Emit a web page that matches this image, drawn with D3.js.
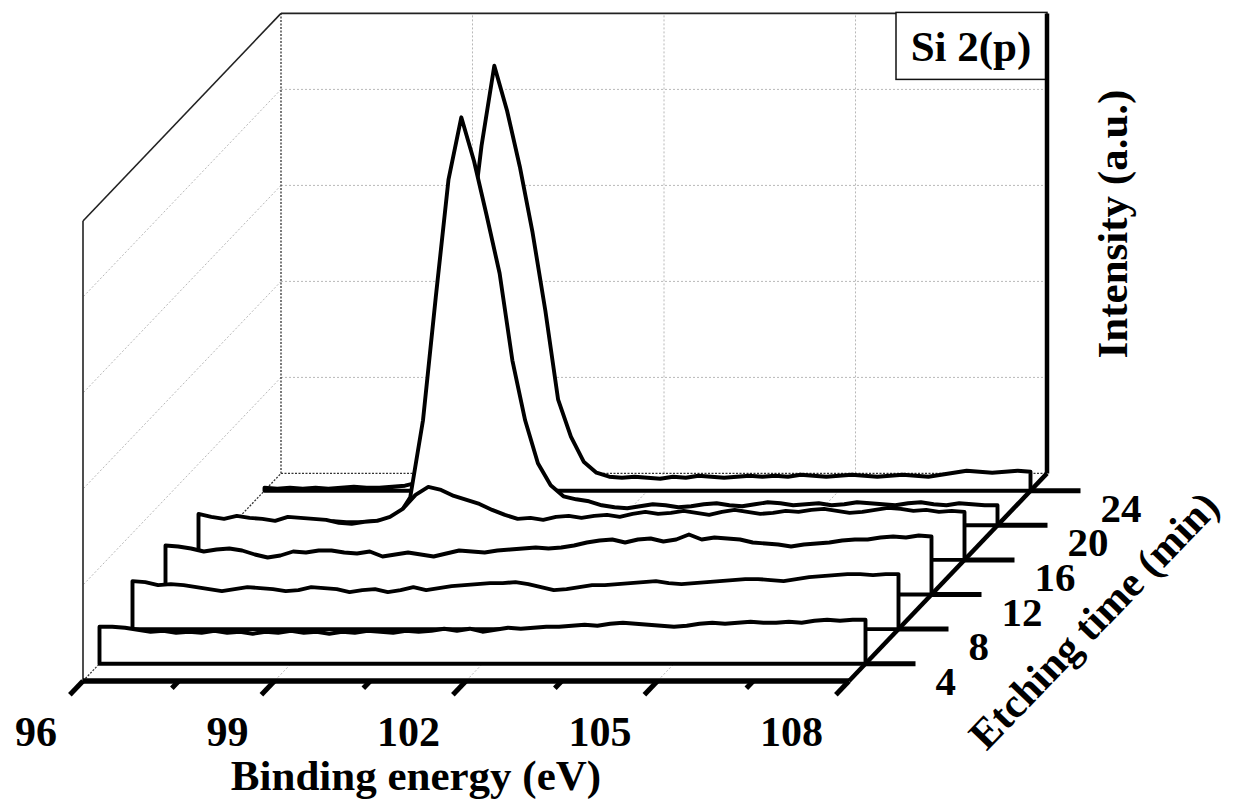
<!DOCTYPE html>
<html>
<head>
<meta charset="utf-8">
<script src="https://cdn.jsdelivr.net/npm/d3@7/dist/d3.min.js"></script>
<style>
  body { margin: 0; background: #fff; }
  svg { display: block; }
  text { font-family: "Liberation Serif", "Times New Roman", serif; font-weight: bold; fill: #000; }
</style>
</head>
<body>
<div id="chart"></div>
<script>
// Binding energy grid (eV)
const energies = [96.0,96.2,96.4,96.6,96.8,97.0,97.2,97.4,97.6,97.8,
  98.0,98.2,98.4,98.6,98.8,99.0,99.2,99.4,99.6,99.8,
  100.0,100.2,100.4,100.6,100.8,101.0,101.2,101.4,101.6,101.8,
  102.0,102.2,102.4,102.6,102.8,103.0,103.2,103.4,103.6,103.8,
  104.0,104.2,104.4,104.6,104.8,105.0,105.2,105.4,105.6,105.8,
  106.0,106.2,106.4,106.6,106.8,107.0,107.2,107.4,107.6,107.8,108.0];

const etchTimes = ["4", "8", "12", "16", "20", "24"];
const energyTicks = [96, 99, 102, 105, 108];
const energyMinorTicks = [97.5, 100.5, 103.5, 106.5];
const energyGrid = [99, 102, 105];
const intensityGrid = [960, 1920, 2880, 3840];
const intensityMax = 4600;

// Intensity (a.u.) per etching time
const s4 = [370,370,360,340,320,330,310,320,310,330, 310,320,300,320,310,330,310,320,300,320,
  310,330,320,310,330,320,330,350,330,350, 320,340,360,350,360,370,370,380,390,380,
  400,410,400,390,380,370,380,400,410,400, 410,420,410,410,420,410,430,440,430,440, 440];
const s8 = [480,470,440,450,440,420,400,380,400,420, 410,400,380,390,420,410,400,370,390,400,
  370,390,420,390,410,430,440,450,460,460, 470,450,420,390,400,420,440,440,450,460,
  470,480,460,450,460,470,480,490,500,500, 490,480,500,520,530,540,550,550,540,550, 550];
const s12 = [490,480,460,430,450,460,440,400,370,390, 430,420,440,440,420,410,430,380,400,420,
  400,380,410,440,430,420,440,450,460,470, 460,470,490,520,540,550,520,550,560,530,
  550,600,550,570,560,550,520,510,500,480, 500,510,520,540,550,550,570,580,570,590, 580];
const s16 = [460,430,410,440,420,410,390,430,420,410, 400,370,360,380,390,430,510,650,730,700,
  640,600,560,500,450,410,420,400,430,440, 420,440,450,430,460,480,460,470,490,470,
  450,480,500,480,460,470,490,480,500,510, 490,470,480,500,520,510,490,500,480,490, 480];
const s20 = [30,20,30,40,20,30,30,20,40,30, 30,40,50,80,280,1050,2280,3460,4080,3640,
  3090,2520,1650,1050,620,400,290,260,240,200, 180,170,190,210,200,180,190,210,220,200,
  190,210,230,220,200,210,220,200,210,230, 220,210,200,220,230,210,200,220,210,200, 200];
const s24 = [30,20,30,20,30,20,30,40,30,30, 40,50,80,200,550,1300,2400,3450,4250,3800,
  3240,2580,1800,910,540,290,180,140,130,140, 130,120,140,130,150,140,130,140,150,140,
  150,140,160,150,140,150,160,150,140,150, 160,150,140,160,180,200,190,180,190,200, 190];

const spectra = [s4, s8, s12, s16, s20, s24];

function waterfall(elementId) {

  const width = 1233, height = 807;

  // front-left floor corner and the vector from front to back of the floor
  const front = {x: 83, y: 681};
  const back = {x: 198, y: -207.6};

  const svg = d3.select(elementId).append('svg')
    .attr('width', width)
    .attr('height', height);

  // Scales
  const xscale = d3.scaleLinear().domain([96, 108]).range([0, 766]);
  const zscale = d3.scaleLinear().domain([0, intensityMax]).range([0, 460]);
  const dscale = d3.scaleBand().domain(etchTimes).range([0, 1]);
  const mid = t => dscale(t) + dscale.bandwidth() / 2;

  // (energy, depth fraction, intensity) -> screen
  function proj(e, d, v) {
    return [front.x + xscale(e) + d * back.x, front.y + d * back.y - zscale(v)];
  }

  function seg(g, a, b) {
    return g.append('line')
      .attr('x1', a[0]).attr('y1', a[1])
      .attr('x2', b[0]).attr('y2', b[1]);
  }

  const e0 = xscale.domain()[0], e1 = xscale.domain()[1];

  // Light grid lines on walls and floor
  const grid = svg.append('g')
    .attr('stroke', '#b8b8b8').attr('stroke-width', 1).attr('stroke-dasharray', '2,2');
  intensityGrid.forEach(v => {
    seg(grid, proj(e0, 1, v), proj(e1, 1, v));
    seg(grid, proj(e0, 1, v), proj(e0, 0, v));
  });
  energyGrid.forEach(e => {
    seg(grid, proj(e, 1, 0), proj(e, 1, intensityMax));
    seg(grid, proj(e, 1, 0), proj(e, 0, 0));
  });

  // Hidden box edges (dotted)
  const hidden = svg.append('g')
    .attr('stroke', '#333').attr('stroke-width', 1.3).attr('stroke-dasharray', '2,1.5');
  seg(hidden, proj(e0, 1, 0), proj(e0, 1, intensityMax));
  seg(hidden, proj(e0, 1, 0), proj(e1, 1, 0));
  seg(hidden, proj(e0, 0, 0), proj(e0, 1, 0));

  // Visible box edges
  const box = svg.append('g').attr('stroke', '#222').attr('stroke-width', 1.6);
  seg(box, proj(e0, 1, intensityMax), proj(e1, 1, intensityMax));
  seg(box, proj(e0, 1, intensityMax), proj(e0, 0, intensityMax));
  seg(box, proj(e0, 0, 0), proj(e0, 0, intensityMax));

  // Label box
  const tr = proj(e1, 1, intensityMax);
  svg.append('rect')
    .attr('x', tr[0] - 151).attr('y', tr[1] - 1)
    .attr('width', 151).attr('height', 67)
    .attr('fill', '#fff').attr('stroke', '#111').attr('stroke-width', 1.5);
  svg.append('text')
    .attr('x', tr[0] - 76).attr('y', tr[1] + 48)
    .attr('text-anchor', 'middle')
    .style('font-size', '43px')
    .text('Si 2(p)');

  // Axes
  const axes = svg.append('g').attr('stroke', '#000').attr('stroke-linecap', 'butt');
  // intensity axis (back right edge)
  seg(axes, proj(e1, 1, 0), proj(e1, 1, intensityMax)).attr('stroke-width', 4.5);
  // binding energy axis
  seg(axes, proj(e0, 0, 0), proj(e1, 0, 0)).attr('stroke-width', 5.5);
  // etching time axis
  seg(axes, proj(e1, 0, 0), proj(e1, 1, 0)).attr('stroke-width', 4.5);

  const blen = Math.hypot(back.x, back.y);
  const ux = -back.x / blen, uy = -back.y / blen;
  energyTicks.forEach(e => {
    const p = proj(e, 0, 0);
    seg(axes, p, [p[0] + ux * 19, p[1] + uy * 19]).attr('stroke-width', 5);
    svg.append('text')
      .attr('x', p[0] - 26).attr('y', 746)
      .attr('text-anchor', 'end')
      .style('font-size', '42px')
      .text(e);
  });
  energyMinorTicks.forEach(e => {
    const p = proj(e, 0, 0);
    seg(axes, p, [p[0] + ux * 10, p[1] + uy * 10]).attr('stroke-width', 5);
  });

  // Spectra, drawn back to front so nearer ones hide the ones behind
  const line = d3.line();
  etchTimes.map((t, i) => i).reverse().forEach(i => {
    const d = mid(etchTimes[i]);
    const pts = [proj(e0, d, 0)]
      .concat(energies.map((e, k) => proj(e, d, spectra[i][k])))
      .concat([proj(e1, d, 0)]);
    svg.append('path')
      .attr('d', line(pts) + 'Z')
      .attr('fill', '#fff')
      .attr('stroke', '#000')
      .attr('stroke-width', 3.9)
      .attr('stroke-linejoin', 'round');
  });

  // Etching time ticks and labels
  etchTimes.forEach(t => {
    const p = proj(e1, mid(t), 0);
    seg(svg, p, [p[0] + 50, p[1]]).attr('stroke', '#000').attr('stroke-width', 5);
    svg.append('text')
      .attr('x', p[0] + 70).attr('y', p[1] + 31)
      .style('font-size', '41px')
      .text(t);
  });

  // Axis titles
  svg.append('text')
    .attr('x', 416).attr('y', 790)
    .attr('text-anchor', 'middle')
    .style('font-size', '43px')
    .text('Binding energy (eV)');

  svg.append('text')
    .attr('transform', 'translate(1127,224) rotate(-90)')
    .attr('text-anchor', 'middle')
    .style('font-size', '43px')
    .text('Intensity (a.u.)');

  svg.append('text')
    .attr('transform', 'translate(1104,630) rotate(-46)')
    .attr('text-anchor', 'middle')
    .style('font-size', '42px')
    .text('Etching time (min)');
}

waterfall('#chart');
</script>
</body>
</html>
